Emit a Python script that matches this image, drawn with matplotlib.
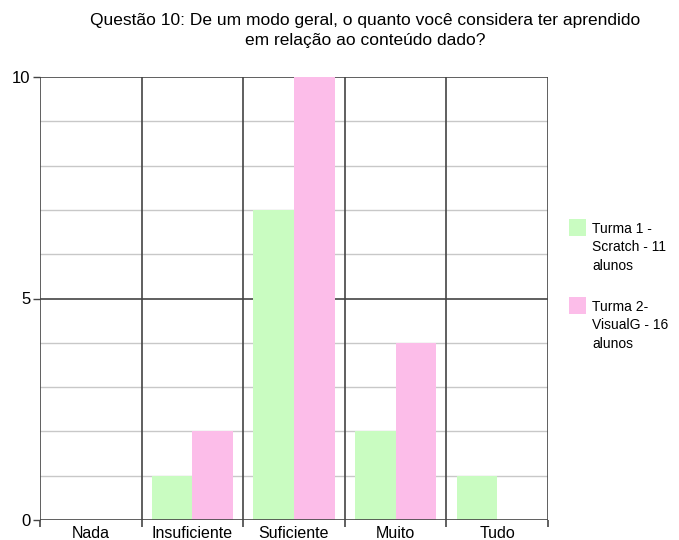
import matplotlib
matplotlib.use("Agg")
import matplotlib.pyplot as plt
import numpy as np
from matplotlib.patches import Rectangle

categories = ["Nada", "Insuficiente", "Suficiente", "Muito", "Tudo"]
turma1 = [0, 1, 7, 2, 1]
turma2 = [0, 2, 10, 4, 0]
labels = ["Turma 1 -\nScratch - 11\nalunos", "Turma 2-\nVisualG - 16\nalunos"]
title = "Questão 10: De um modo geral, o quanto você considera ter aprendido\nem relação ao conteúdo dado?"

green = "#c9fcc1"
pink = "#fcbde9"
dark = "#444444"
light = "#c8c8c8"

plt.rcParams['font.family'] = ['Liberation Sans', 'DejaVu Sans']

fig = plt.figure(figsize=(6.79, 5.40), dpi=100)
W, H = 679, 540
ax = fig.add_axes([40 / W, 1 - 520 / H, (548 - 40) / W, (520 - 77) / H])

x = np.arange(len(categories))
ax.bar(x - 0.2, turma1, width=0.4, color=green, zorder=3, label=labels[0])
ax.bar(x + 0.2, turma2, width=0.4, color=pink, zorder=3, label=labels[1])

ax.set_xlim(-0.5, len(categories) - 0.5)
ax.set_ylim(0, 10)

# gridlines
for v in range(0, 11):
    if v % 5 == 0:
        continue
    ax.axhline(v, color=light, lw=1, zorder=1)
for v in [0, 5, 10]:
    ax.axhline(v, color=dark, lw=1.2, zorder=4 if v == 0 else 2)
for b in np.arange(-0.5, len(categories), 1.0):
    ax.axvline(b, color=dark, lw=1.2, zorder=4)

for s in ax.spines.values():
    s.set_visible(False)

ax.set_yticks([0, 5, 10])
ax.set_yticklabels(["0", "5", "10"])
ax.tick_params(axis='y', length=5, width=1, color=dark, labelsize=12, pad=2)
ax.set_xticks(x)
ax.set_xticklabels(categories)
ax.tick_params(axis='x', which='major', length=0, labelsize=11.5, pad=4)
ax.set_xticks(np.arange(-0.5, len(categories), 1.0), minor=True)
ax.tick_params(axis='x', which='minor', length=5, width=1.2, color=dark)

fig.text(365 / W, 1 - 13 / H, title, ha='center', va='top', fontsize=12.5, linespacing=1.45)

# legend drawn manually (squares aligned with the first text line)
entries = [(green, labels[0], 219), (pink, labels[1], 297)]
for col, lab, ytop in entries:
    fig.patches.append(Rectangle((569 / W, 1 - (ytop + 17) / H), 17 / W, 17 / H,
                                 transform=fig.transFigure, facecolor=col,
                                 edgecolor='none', figure=fig))
    fig.text(592 / W, 1 - (ytop + 3) / H, lab, ha='left', va='top', fontsize=10,
             linespacing=1.4)

fig.savefig("out.png", dpi=100)
